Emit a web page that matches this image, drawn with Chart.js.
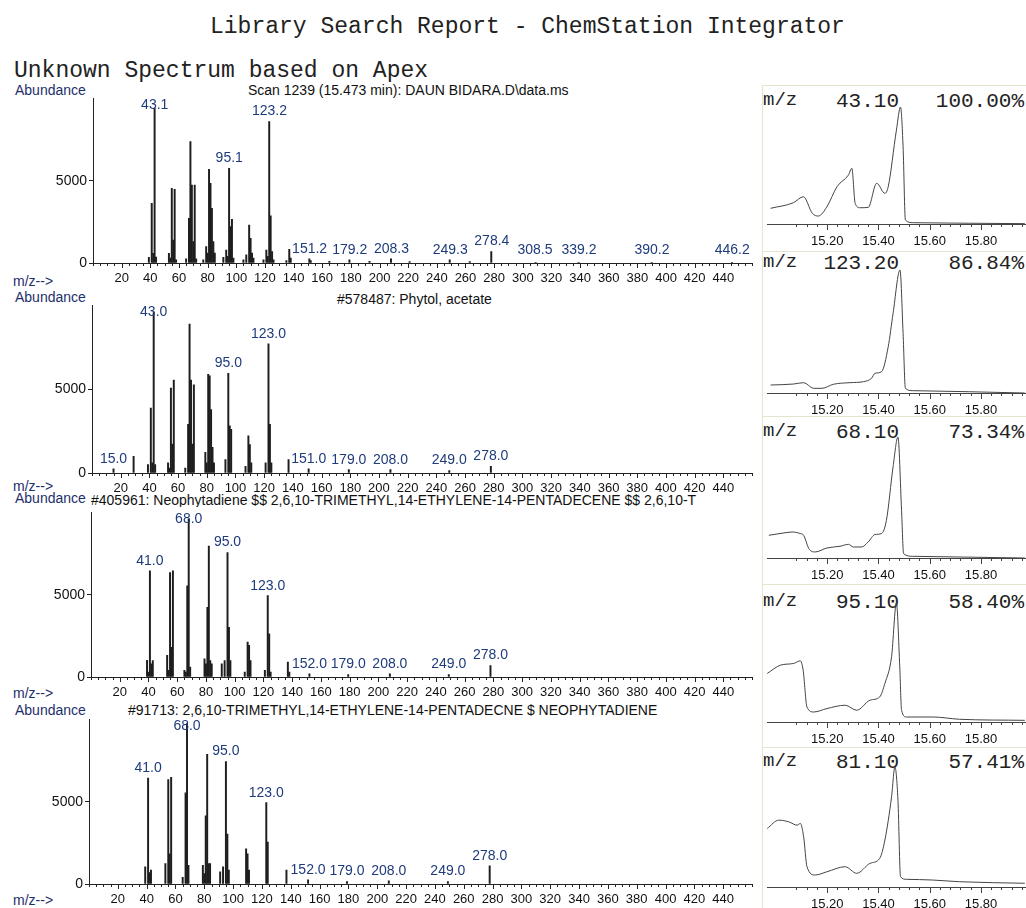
<!DOCTYPE html>
<html>
<head>
<meta charset="utf-8">
<title>Library Search Report</title>
<script src="https://cdn.jsdelivr.net/npm/chart.js@4.4.1/dist/chart.umd.min.js"></script>
<style>
  html, body { margin: 0; padding: 0; background: #fff; }
  body { position: relative; width: 1026px; height: 908px; overflow: hidden; font-family: "Liberation Sans", Arial, sans-serif; }
  .txt { position: absolute; white-space: nowrap; line-height: 1; }
  .mono { font-family: "Liberation Mono", "Courier New", monospace; color: #222; }
  .sans { font-size: 14px; color: #111; }
  .navy { color: #1d2f6b; }
  canvas { position: absolute; }
  .rule { position: absolute; background: #e2e6cf; }
</style>
</head>
<body>

<div class="txt mono" style="left:210px; top:16px; font-size:23px;">Library Search Report - ChemStation Integrator</div>
<div class="txt mono" style="left:14px; top:60px; font-size:23px;">Unknown Spectrum based on Apex</div>

<div class="rule" style="left:762px; top:85px; width:1px; height:823px;"></div>
<div class="rule" style="left:762px; top:85px; width:264px; height:1px;"></div>
<div class="rule" style="left:762px; top:251px; width:264px; height:1px;"></div>
<div class="rule" style="left:762px; top:416px; width:264px; height:1px;"></div>
<div class="rule" style="left:762px; top:584px; width:264px; height:1px;"></div>
<div class="rule" style="left:762px; top:747px; width:264px; height:1px;"></div>

<div class="txt sans navy" style="left:15px; top:83px;">Abundance</div>
<div class="txt sans" style="left:248px; top:83px;">Scan 1239 (15.473 min): DAUN BIDARA.D\data.ms</div>
<div class="txt sans navy" style="left:13px; top:274px;">m/z--&gt;</div>

<div class="txt sans navy" style="left:15px; top:290px;">Abundance</div>
<div class="txt sans" style="left:337px; top:292px;">#578487: Phytol, acetate</div>
<div class="txt sans navy" style="left:13px; top:479px;">m/z--&gt;</div>

<div class="txt sans navy" style="left:15px; top:491px;">Abundance</div>
<div class="txt sans" style="left:91px; top:493px; width:669px; overflow:hidden;">#405961: Neophytadiene $$ 2,6,10-TRIMETHYL,14-ETHYLENE-14-PENTADECENE $$ 2,6,10-T</div>
<div class="txt sans navy" style="left:13px; top:686px;">m/z--&gt;</div>

<div class="txt sans navy" style="left:15px; top:703px;">Abundance</div>
<div class="txt sans" style="left:128px; top:703px;">#91713: 2,6,10-TRIMETHYL,14-ETHYLENE-14-PENTADECNE $ NEOPHYTADIENE</div>
<div class="txt sans navy" style="left:13px; top:893px;">m/z--&gt;</div>

<div id="ionHeads"></div>

<script>
// ---------- mass spectra (m/z, abundance) ----------
const scanMz    = [39, 41, 42, 43, 44, 53, 54, 55, 56, 57, 58, 65, 67, 68, 69, 70, 71, 72, 77, 79, 80, 81, 82, 83, 84, 85, 91, 93, 94, 95, 96, 97, 98, 105, 107, 109, 110, 111, 112, 119, 121, 122, 123, 124, 125, 126, 135, 137, 138, 151, 152, 165, 179, 193, 208, 221, 249, 263, 278, 309, 339, 390, 446];
const scanAbund = [350, 3630, 590, 9400, 360, 590, 300, 4540, 1400, 4480, 200, 250, 2710, 7370, 4740, 1300, 4740, 250, 200, 990, 600, 5690, 4840, 3320, 1300, 600, 350, 790, 400, 5750, 2210, 2650, 300, 200, 500, 2310, 1500, 600, 300, 200, 790, 400, 8590, 2860, 700, 200, 150, 830, 300, 250, 150, 100, 200, 100, 250, 80, 200, 80, 700, 40, 40, 40, 40];
const scanPeakLabels = ['43.1', '95.1', '123.2', '151.2', '179.2', '208.3', '249.3', '278.4', '308.5', '339.2', '390.2', '446.2'];

const phytolMz    = [15, 29, 39, 41, 42, 43, 44, 53, 54, 55, 56, 57, 65, 67, 68, 69, 70, 71, 79, 80, 81, 82, 83, 84, 85, 93, 95, 96, 97, 107, 109, 110, 111, 121, 123, 124, 125, 137, 151, 179, 208, 249, 278];
const phytolAbund = [250, 1000, 500, 3880, 600, 9570, 500, 600, 300, 5060, 1730, 5550, 300, 2900, 8880, 5550, 1730, 5260, 1240, 600, 5880, 5800, 3790, 1530, 600, 800, 5940, 2810, 2600, 400, 2220, 1700, 600, 600, 7710, 2900, 600, 800, 250, 200, 200, 150, 400];
const phytolPeakLabels = ['15.0', '43.0', '95.0', '123.0', '151.0', '179.0', '208.0', '249.0', '278.0'];

const neoMz    = [39, 40, 41, 42, 43, 53, 54, 55, 56, 57, 65, 66, 67, 68, 69, 79, 80, 81, 82, 83, 84, 91, 93, 95, 96, 97, 107, 109, 110, 111, 121, 123, 124, 125, 137, 138, 152, 179, 208, 249, 278];
const neoAbund = [1010, 300, 6450, 800, 1000, 1310, 400, 6350, 1810, 6450, 400, 300, 5540, 9580, 600, 1110, 800, 4230, 7960, 1000, 800, 800, 1000, 7560, 3020, 1000, 300, 2120, 1920, 1000, 400, 4940, 2620, 300, 910, 300, 200, 150, 200, 150, 700];
const neoPeakLabels = ['41.0', '68.0', '95.0', '123.0', '152.0', '179.0', '208.0', '249.0', '278.0'];

const trimethylMz    = [39, 41, 42, 43, 53, 55, 56, 57, 65, 67, 68, 69, 79, 80, 81, 82, 83, 84, 91, 93, 95, 96, 97, 109, 110, 111, 123, 124, 137, 152, 179, 208, 249, 278];
const trimethylAbund = [1040, 6440, 700, 840, 1240, 6340, 1840, 6480, 400, 5540, 9740, 1140, 1140, 640, 4140, 7880, 1240, 1240, 740, 1040, 7440, 3040, 840, 2140, 1840, 840, 4940, 2540, 840, 250, 150, 200, 150, 1100];
const trimethylPeakLabels = ['41.0', '68.0', '95.0', '123.0', '152.0', '179.0', '208.0', '249.0', '278.0'];

const spectrumTickLabels = [20, 40, 60, 80, 100, 120, 140, 160, 180, 200, 220, 240, 260, 280, 300, 320, 340, 360, 380, 400, 420, 440];
const abundanceTicks = [0, 5000];

// ---------- extracted ion chromatograms (min, % of peak) ----------
const ion43Time   = [14.979, 15.068, 15.107, 15.142, 15.165, 15.199, 15.238, 15.283, 15.296, 15.309, 15.328, 15.360, 15.393, 15.425, 15.438, 15.470, 15.486, 15.496, 15.505, 15.534, 15.971];
const ion43Signal = [13.4, 18.2, 23.3, 9.1, 6.8, 14.8, 31.9, 41.9, 47.6, 17.7, 13.9, 14.2, 34.8, 26.2, 31.9, 80.3, 100, 66, 3.4, 1.1, 0.3];

const ion123Time   = [14.979, 15.069, 15.108, 15.147, 15.179, 15.224, 15.289, 15.341, 15.373, 15.386, 15.412, 15.438, 15.457, 15.484, 15.496, 15.505, 15.534, 15.971];
const ion123Signal = [6.5, 7.3, 8.4, 3.8, 3.8, 7.1, 8.4, 9.2, 12, 16, 17.3, 37.6, 64.8, 100, 48.5, 3.8, 1.9, 0];

const ion68Time   = [14.972, 15.031, 15.063, 15.095, 15.108, 15.128, 15.153, 15.199, 15.250, 15.283, 15.302, 15.334, 15.360, 15.386, 15.412, 15.431, 15.457, 15.476, 15.490, 15.498, 15.534, 15.971];
const ion68Signal = [18.8, 20.7, 21.5, 20.2, 18.8, 7.8, 5.0, 8.3, 9.7, 11.3, 9.1, 9.1, 13.3, 19.4, 20.2, 31.2, 75.4, 100, 39.5, 3.6, 1.4, 0];

const ion95Time   = [14.966, 15.018, 15.069, 15.095, 15.106, 15.121, 15.147, 15.199, 15.270, 15.315, 15.367, 15.405, 15.425, 15.451, 15.470, 15.483, 15.490, 15.509, 15.612, 15.716, 15.971];
const ion95Signal = [40.8, 47.8, 49.2, 51.4, 43.6, 12.6, 8.4, 11.3, 14.1, 9.9, 18.3, 21.1, 32.4, 54.8, 100, 46.3, 9.9, 4.2, 4.2, 2.3, 1.4];

const ion81Time   = [14.966, 15.011, 15.050, 15.083, 15.095, 15.108, 15.121, 15.153, 15.199, 15.270, 15.315, 15.367, 15.405, 15.425, 15.451, 15.464, 15.476, 15.486, 15.509, 15.612, 15.716, 15.971];
const ion81Signal = [48.8, 55.7, 54.3, 51.5, 53, 41.8, 16.9, 10, 12.7, 16.9, 11.4, 19.7, 23.9, 39.1, 75.1, 100, 72.3, 8.6, 6.4, 5.8, 4.4, 3.1];

const ionMz      = ['43.10', '123.20', '68.10', '95.10', '81.10'];
const ionPercent = ['100.00%', '86.84%', '73.34%', '58.40%', '57.41%'];
const chromTickLabels = ['15.20', '15.40', '15.60', '15.80'];

// ---------- layout ----------
const spectrumBoxes = [
  { top: 98,  bottom: 263, left: 93 },
  { top: 305, bottom: 473, left: 92 },
  { top: 512, bottom: 677, left: 91 },
  { top: 719, bottom: 884, left: 89 }
];
const chromBoxes = [
  { top: 107, bottom: 224, head: 91 },
  { top: 270, bottom: 393, head: 253 },
  { top: 437, bottom: 558, head: 422 },
  { top: 603, bottom: 722, head: 592 },
  { top: 767, bottom: 887, head: 752 }
];

Chart.defaults.font.family = '"Liberation Sans", Arial, sans-serif';
Chart.defaults.color = '#111';
Chart.defaults.animation = false;

function makeCanvas(left, top, width, height) {
  const canvas = document.createElement('canvas');
  canvas.width = width;
  canvas.height = height;
  canvas.style.left = left + 'px';
  canvas.style.top = top + 'px';
  canvas.style.width = width + 'px';
  canvas.style.height = height + 'px';
  document.body.appendChild(canvas);
  return canvas;
}

// tick marks under the x axis, long where a label sits
function tickMarks(majorLen, minorLen, color) {
  return {
    id: 'tickMarks',
    afterDraw(chart) {
      const s = chart.scales.x;
      const ctx = chart.ctx;
      ctx.save();
      ctx.strokeStyle = color;
      ctx.lineWidth = 1;
      ctx.beginPath();
      s.ticks.forEach(t => {
        const px = Math.round(s.getPixelForValue(t.value)) + 0.5;
        ctx.moveTo(px, s.top);
        ctx.lineTo(px, s.top + (t.label ? majorLen : minorLen));
      });
      ctx.stroke();
      ctx.restore();
    }
  };
}

function peakLabels(labels, mz, abund) {
  return {
    id: 'peakLabels',
    afterDatasetsDraw(chart) {
      const { ctx, chartArea, scales: { x, y } } = chart;
      const base = y.getPixelForValue(0);
      ctx.save();
      ctx.font = '14px "Liberation Sans", Arial, sans-serif';
      ctx.fillStyle = '#1f3b7c';
      ctx.textAlign = 'center';
      ctx.textBaseline = 'bottom';
      labels.forEach(text => {
        const m = parseFloat(text);
        let top = 0;
        mz.forEach((v, i) => {
          if (Math.abs(v - m) < 0.6) top = Math.max(top, abund[i]);
        });
        const py = y.getPixelForValue(top);
        const by = Math.max(Math.min(py - 3, base - 6), chartArea.top + 14);
        ctx.fillText(text, x.getPixelForValue(m), by);
      });
      ctx.restore();
    }
  };
}

function renderSpectrum(box, mz, abund, labels) {
  const padTop = 10;
  const axisH = 26;
  const canvas = makeCanvas(0, box.top - padTop, 760, box.bottom - box.top + padTop + axisH);
  const points = mz.map((m, i) => ({ x: m, y: abund[i] }));

  new Chart(canvas.getContext('2d'), {
    type: 'bar',
    data: {
      datasets: [{
        data: points,
        backgroundColor: '#1e1e1e',
        borderWidth: 0,
        barThickness: 1.3
      }]
    },
    options: {
      responsive: false,
      maintainAspectRatio: false,
      layout: { padding: { top: padTop, right: 8, left: 0, bottom: 0 } },
      plugins: { legend: { display: false }, tooltip: { enabled: false } },
      scales: {
        x: {
          type: 'linear',
          min: 0,
          max: 460,
          offset: false,
          afterFit: s => { s.height = axisH; },
          afterBuildTicks: s => {
            const t = [];
            for (let v = 0; v <= 460; v += 5) t.push({ value: v });
            s.ticks = t;
          },
          grid: { display: true, offset: false, drawOnChartArea: false, drawTicks: true, tickLength: 5, color: 'rgba(0,0,0,0)' },
          border: { display: true, color: '#222', width: 1 },
          ticks: {
            autoSkip: false,
            maxRotation: 0,
            padding: 3,
            font: { size: 13 },
            color: '#111',
            callback: v => spectrumTickLabels.includes(v) ? String(v) : ''
          }
        },
        y: {
          min: 0,
          max: 10000,
          afterFit: s => { s.width = box.left; },
          afterBuildTicks: s => { s.ticks = abundanceTicks.map(v => ({ value: v })); },
          grid: { drawOnChartArea: false, tickLength: 4, color: '#222' },
          border: { display: true, color: '#222', width: 1 },
          ticks: { padding: 2, font: { size: 14 }, color: '#111', callback: v => String(v) }
        }
      }
    },
    plugins: [tickMarks(5, 3, '#222'), peakLabels(labels, mz, abund)]
  });
}

function renderChrom(box, times, signal) {
  const padTop = 10;
  const axisH = 26;
  const canvas = makeCanvas(760, box.top - padTop, 266, box.bottom - box.top + padTop + axisH);
  const points = times.map((t, i) => ({ x: t, y: signal[i] }));

  new Chart(canvas.getContext('2d'), {
    type: 'line',
    data: {
      datasets: [{
        data: points,
        borderColor: '#444',
        borderWidth: 1,
        pointRadius: 0,
        cubicInterpolationMode: 'monotone',
        clip: 4
      }]
    },
    options: {
      responsive: false,
      maintainAspectRatio: false,
      layout: { padding: { top: padTop, right: 0, left: 7, bottom: 0 } },
      plugins: { legend: { display: false }, tooltip: { enabled: false } },
      scales: {
        x: {
          type: 'linear',
          min: 14.965,
          max: 15.972,
          afterFit: s => { s.height = axisH; },
          afterBuildTicks: s => {
            const t = [];
            for (let k = 377; k <= 399; k++) t.push({ value: Math.round(k * 4) / 100 });
            s.ticks = t;
          },
          grid: { display: true, drawOnChartArea: false, drawTicks: true, tickLength: 6, color: 'rgba(0,0,0,0)' },
          border: { display: true, color: '#444', width: 1 },
          ticks: {
            autoSkip: false,
            maxRotation: 0,
            padding: 4,
            font: { size: 13 },
            color: '#111',
            callback: v => chromTickLabels.includes(Number(v).toFixed(2)) ? Number(v).toFixed(2) : ''
          }
        },
        y: { display: false, min: 0, max: 100 }
      }
    },
    plugins: [tickMarks(6, 3, '#444')]
  });
}

renderSpectrum(spectrumBoxes[0], scanMz, scanAbund, scanPeakLabels);
renderSpectrum(spectrumBoxes[1], phytolMz, phytolAbund, phytolPeakLabels);
renderSpectrum(spectrumBoxes[2], neoMz, neoAbund, neoPeakLabels);
renderSpectrum(spectrumBoxes[3], trimethylMz, trimethylAbund, trimethylPeakLabels);

const ionSeries = [
  [ion43Time, ion43Signal],
  [ion123Time, ion123Signal],
  [ion68Time, ion68Signal],
  [ion95Time, ion95Signal],
  [ion81Time, ion81Signal]
];
ionSeries.forEach((s, i) => renderChrom(chromBoxes[i], s[0], s[1]));

// headers of the ion panels
const heads = document.getElementById('ionHeads');
chromBoxes.forEach((b, i) => {
  const row = document.createElement('div');
  row.innerHTML =
    '<div class="txt mono" style="left:763px; top:' + b.head + 'px; font-size:19px;">m/z</div>' +
    '<div class="txt mono" style="right:127px; top:' + b.head + 'px; font-size:21px;">' + ionMz[i] + '</div>' +
    '<div class="txt mono" style="right:2px; top:' + b.head + 'px; font-size:21px;">' + ionPercent[i] + '</div>';
  heads.appendChild(row);
});
</script>
</body>
</html>
